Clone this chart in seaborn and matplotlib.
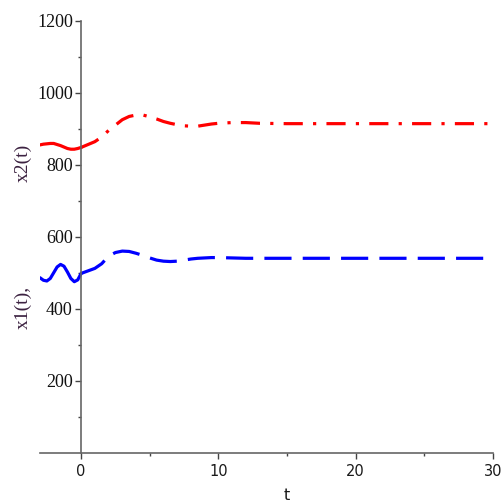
import numpy as np
import pandas as pd
import matplotlib
matplotlib.use("Agg")
import matplotlib.pyplot as plt
from matplotlib.ticker import FixedLocator
import seaborn as sns

# ── Data ─────────────────────────────────────────────────────
# history part (t <= 0), drawn solid
t_hist = [-3.0, -2.75, -2.5, -2.25, -2.0, -1.75, -1.5, -1.25, -1.0,
          -0.75, -0.5, -0.25, 0.0]
x1_hist = [486, 479, 477, 484, 500, 516, 523, 518, 502, 484, 475, 480, 498]
x2_hist = [855, 857, 858, 859, 859, 856, 853, 849, 845, 843, 843, 845, 848]

# solution part (t >= 0)
t_sol = [0.0, 0.5, 1.0, 1.5, 2.0, 2.5, 3.0, 3.5, 4.0, 4.5, 5.0, 5.5, 6.0,
         6.5, 7.0, 7.5, 8.0, 8.5, 9.0, 9.5, 10.0, 11.0, 12.0, 13.0, 15.0,
         20.0, 25.0, 30.0]
x1_sol = [498, 505, 512, 525, 546, 556, 560, 559, 554, 548, 541, 535, 532,
          531, 532, 535, 538, 540, 541, 542, 542, 541, 540, 540, 540,
          540, 540, 540]
x2_sol = [848, 856, 864, 877, 895, 910, 925, 934, 938, 938, 933, 927, 920,
          915, 911, 908, 907, 907, 910, 913, 915, 917, 917, 915, 914,
          914, 914, 914]

x_major = [0, 10, 20, 30]
x_minor = [5, 15, 25]
y_major = [200, 400, 600, 800, 1000, 1200]
y_minor = [100, 300, 500, 700, 900, 1100]

# ── Style ────────────────────────────────────────────────────
sns.set_style("ticks")
plt.rcParams["font.family"] = ["DejaVu Sans"]

fig = plt.figure(figsize=(5.03, 5.01), dpi=100)
ax = fig.add_axes([0.0795, 0.0964, 0.900, 0.8623])

lw = 2.3
sns.lineplot(x=t_hist, y=x1_hist, color="#0000ff", linewidth=lw, ax=ax)
sns.lineplot(x=t_sol, y=x1_sol, color="#0000ff", linewidth=lw, ax=ax,
             linestyle=(0, (8.5, 3.5)))
sns.lineplot(x=t_hist, y=x2_hist, color="#ff0000", linewidth=lw, ax=ax)
sns.lineplot(x=t_sol, y=x2_sol, color="#ff0000", linewidth=lw, ax=ax,
             linestyle=(0, (6, 3.2, 1, 3.2)))

ax.set_xlim(-3, 30)
ax.set_ylim(0, 1200)

# Maple-like axes crossing at the origin
for side in ["top", "right"]:
    ax.spines[side].set_visible(False)
ax.spines["left"].set_position(("data", 0))
for side in ["left", "bottom"]:
    ax.spines[side].set_color("#666666")
    ax.spines[side].set_linewidth(1.2)

ax.xaxis.set_major_locator(FixedLocator(x_major))
ax.xaxis.set_minor_locator(FixedLocator(x_minor))
ax.yaxis.set_major_locator(FixedLocator(y_major))
ax.yaxis.set_minor_locator(FixedLocator(y_minor))
ax.tick_params(axis="both", which="both", bottom=True, left=True,
               top=False, right=False)
ax.tick_params(axis="both", which="major", direction="out", length=4,
               width=1.0, color="#444444")
ax.tick_params(axis="both", which="minor", direction="out", length=2.5,
               width=1.0, color="#444444")
ax.tick_params(axis="x", labelsize=10.5, pad=4, labelcolor="#1a1a1a")
ax.tick_params(axis="y", labelsize=13, pad=2, labelcolor="#111111")
ax.set_xticklabels([str(v) for v in x_major])
ax.set_yticklabels([str(v) for v in y_major], family="Liberation Serif")

ax.set_xlabel("")
ax.set_ylabel("")
# axis titles placed as in the reference
ax.text((15 + 3) / 33, -0.098, "t", transform=ax.transAxes, ha="center",
        va="center", fontsize=11.5, color="#1a1a1a")
fig.text(23 / 503, 1 - 307 / 501, "x1(t),", rotation=90, ha="center",
         va="center", fontsize=14, family="Liberation Serif", color="#3b2140")
fig.text(23 / 503, 1 - 163 / 501, "x2(t)", rotation=90, ha="center",
         va="center", fontsize=14, family="Liberation Serif", color="#3b2140")

fig.savefig("out.png", dpi=100)
